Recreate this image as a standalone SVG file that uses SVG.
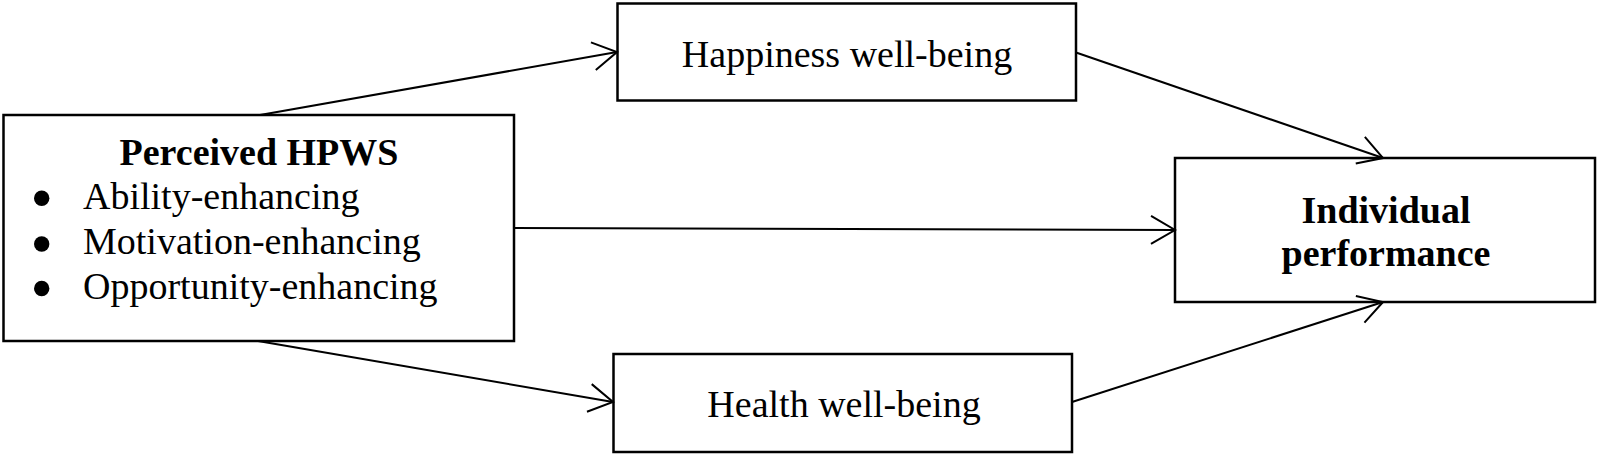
<svg xmlns="http://www.w3.org/2000/svg" width="1600" height="456" viewBox="0 0 1600 456">
<style>
.box{fill:none;stroke:#000;stroke-width:2.5}
.t{font-family:"Liberation Serif","Times New Roman",serif;font-size:38px;fill:#000}
.b{font-weight:bold}
.c{stroke:#000;stroke-width:2;fill:none;marker-end:url(#ah)}
</style>
<defs>
<marker id="ah" markerUnits="userSpaceOnUse" markerWidth="40" markerHeight="40" viewBox="-30 -20 32 40" refX="0" refY="0" orient="auto">
<path d="M-24,-14 L0,0 L-24,14" fill="none" stroke="#000" stroke-width="2"/>
</marker>
</defs>
<rect width="1600" height="456" fill="#fff"/>
<g id="hpws">
<rect class="box" x="3.5" y="115" width="510.5" height="226"/>
<text class="t b" x="259" y="165" text-anchor="middle">Perceived HPWS</text>
<circle cx="41.7" cy="198.3" r="7.7"/>
<circle cx="41.7" cy="244" r="7.7"/>
<circle cx="41.7" cy="288.5" r="7.7"/>
<text class="t" x="83" y="209.3">Ability-enhancing</text>
<text class="t" x="83" y="254.3">Motivation-enhancing</text>
<text class="t" x="83" y="298.5">Opportunity-enhancing</text>
</g>
<g id="happiness">
<rect class="box" x="617.5" y="3.5" width="458.5" height="97"/>
<text class="t" x="847" y="66.5" text-anchor="middle">Happiness well-being</text>
</g>
<g id="health">
<rect class="box" x="613.5" y="354" width="458.5" height="98"/>
<text class="t" x="844" y="417" text-anchor="middle">Health well-being</text>
</g>
<g id="performance">
<rect class="box" x="1175" y="158" width="420" height="144"/>
<text class="t b" x="1386" y="222.5" text-anchor="middle">Individual</text>
<text class="t b" x="1386" y="266" text-anchor="middle">performance</text>
</g>
<g id="connectors">
<line class="c" x1="260" y1="115" x2="617" y2="52"/>
<line class="c" x1="258" y1="341" x2="613" y2="402"/>
<line class="c" x1="514" y1="228" x2="1175" y2="230"/>
<line class="c" x1="1076" y1="52.5" x2="1383" y2="158"/>
<line class="c" x1="1072" y1="402" x2="1383" y2="302"/>
</g>
</svg>
